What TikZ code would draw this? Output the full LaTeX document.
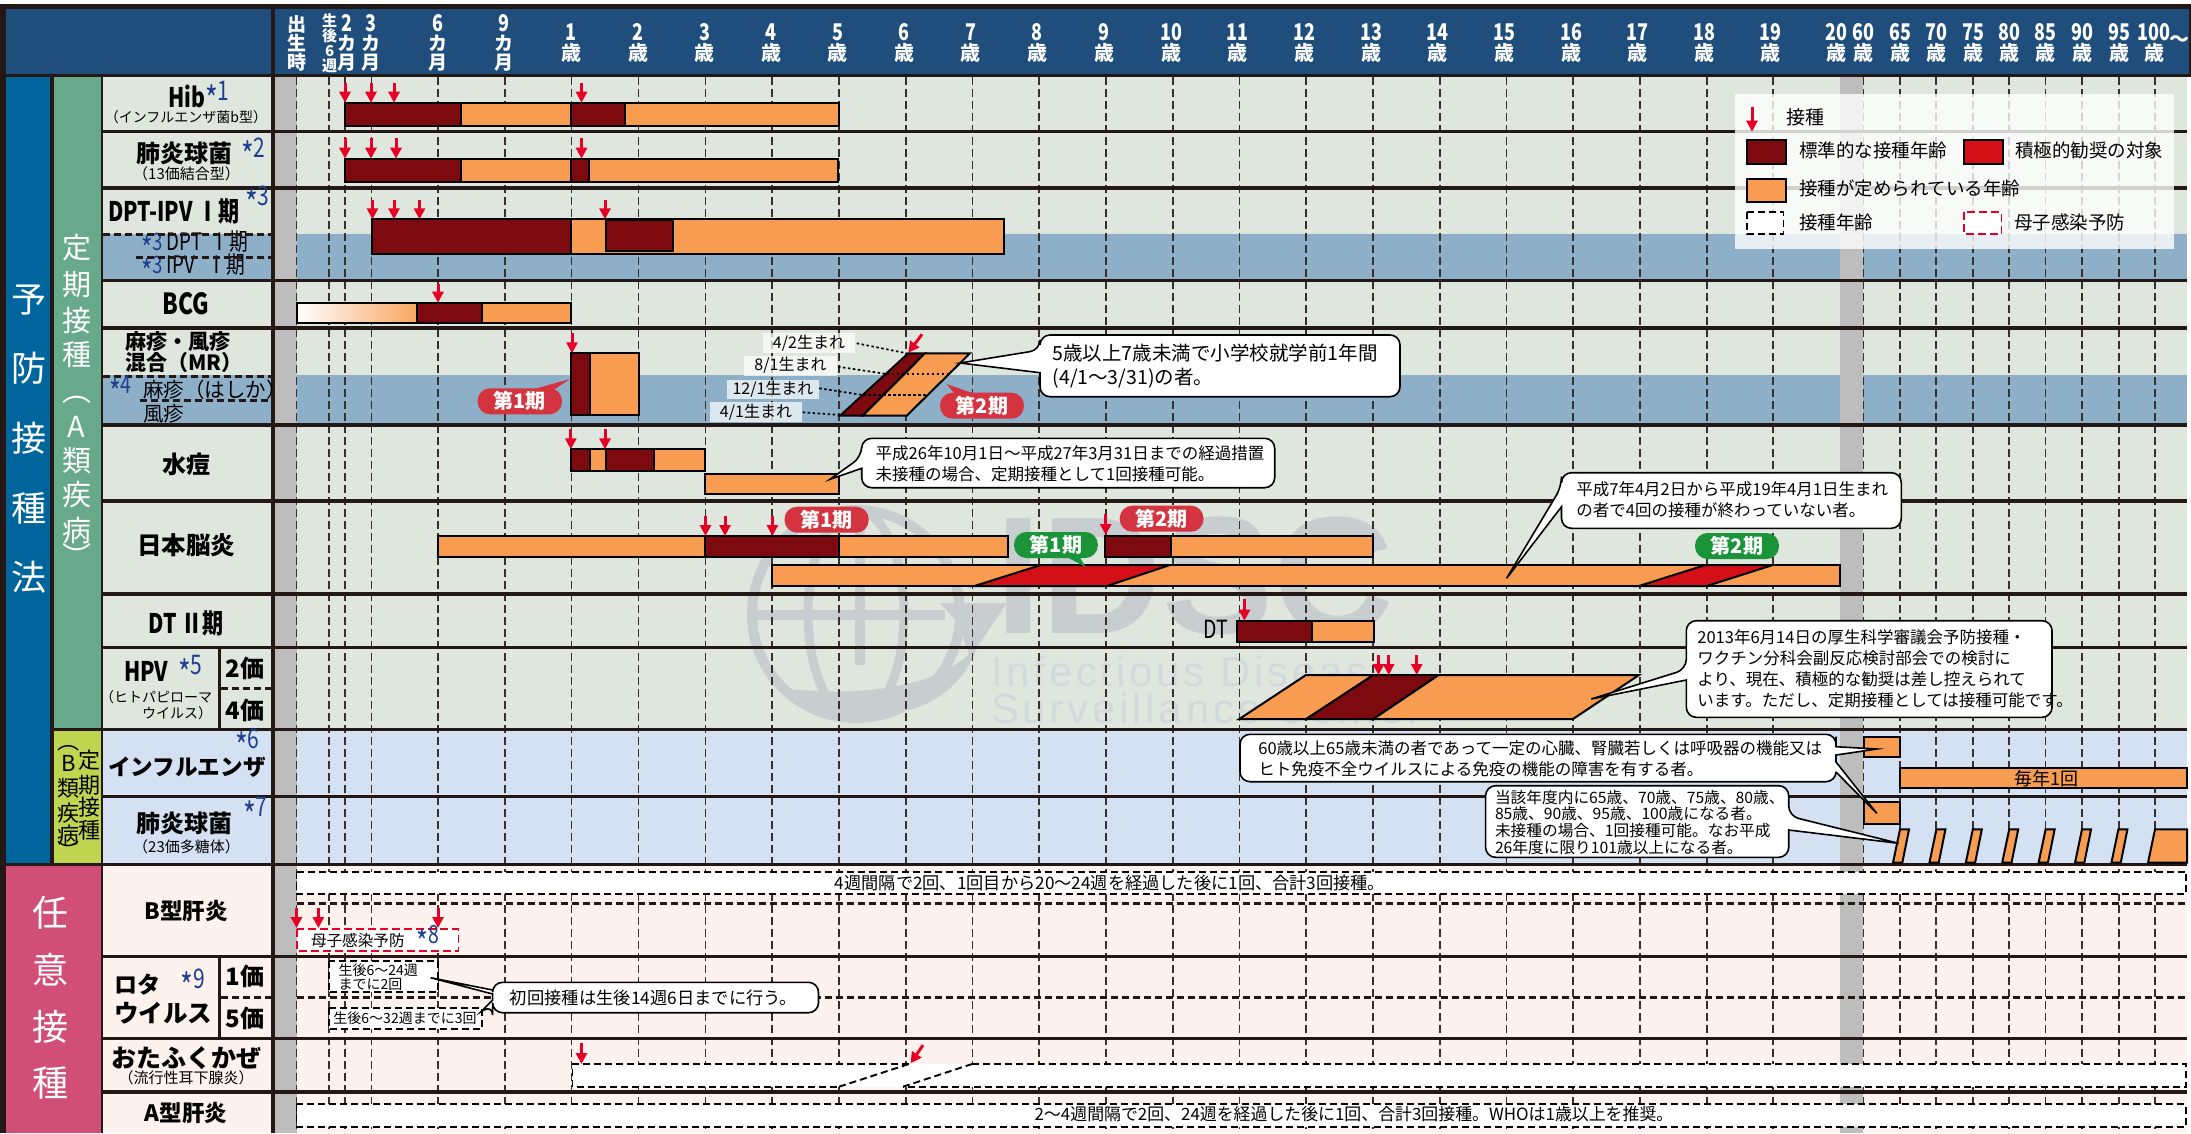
\documentclass[tikz,border=0pt]{standalone}
\usepackage{fontspec}
\setmainfont{Noto Sans CJK JP}
\newfontfamily\cond[FakeStretch=0.78]{Noto Sans CJK JP}
\newfontfamily\wmfont{Liberation Sans}
\newfontfamily\wmthin[LetterSpace=9]{Liberation Sans}
\usetikzlibrary{arrows.meta}
\definecolor{ink}{HTML}{231815}
\definecolor{hdrblue}{HTML}{1F4E7D}
\definecolor{sideblue}{HTML}{00659C}
\definecolor{sidegreen}{HTML}{68A98C}
\definecolor{sideyel}{HTML}{BFD550}
\definecolor{sidepink}{HTML}{D14E77}
\definecolor{rowgreen}{HTML}{DFE6DD}
\definecolor{rowband}{HTML}{8DB0C8}
\definecolor{rowblue}{HTML}{D3E1F3}
\definecolor{rowpink}{HTML}{FEF2EE}
\definecolor{colgray}{HTML}{BDBDBD}
\definecolor{dkred}{HTML}{7D0A0F}
\definecolor{orng}{HTML}{F89C51}
\definecolor{brred}{HTML}{D50F18}
\definecolor{arrred}{HTML}{E60026}
\definecolor{navyb}{HTML}{1E3F8F}
\definecolor{pillred}{HTML}{D4343F}
\definecolor{pillgreen}{HTML}{1B9439}
\definecolor{wmk}{HTML}{C8CDD0}
\definecolor{wml}{HTML}{D2D8DC}
\newcounter{nid}
\newcommand{\fsz}[2]{\fontsize{#1}{#2}\selectfont}
\newcommand{\stx}[1]{\raisebox{-.42em}{\scalebox{1.3}{*}}#1}
\newcommand{\TT}[4][]{\stepcounter{nid}\node[txt,#1] (t\arabic{nid}) at (#2,#3) {#4};}
\newcommand{\barr}[5]{\draw[barline,fill=#5] (#1,#2) rectangle (#3,#4);}
\newcommand{\vcar}[3]{\draw[vacc] (#1,#2) -- (#1,#3);}
\newcommand{\callt}[8]{\draw[callout] (#1,#8) [rounded corners=10pt] -- (#1,#4) -- (#3,#4) -- (#3,#2) -- (#1,#2) -- (#1,#5) [sharp corners] -- (#6,#7) -- cycle;}
\newcommand{\pill}[6]{\fill[#5,rounded corners=12.5pt] (#1,#2) rectangle (#3,#4); \TT[font=\bfseries\fsz{20}{23},text=white]{\fpeval{(#1+#3)/2}}{\fpeval{(#2+#4)/2}}{#6}}
\newcommand{\dg}[1]{{\cond\fsz{23}{20}#1}}
\tikzset{
 txt/.style={inner sep=0pt,outer sep=0pt,text=black,align=center},
 barline/.style={draw=black,line width=2pt,line join=miter},
 vacc/.style={draw=arrred,line width=3pt,-{Triangle[width=11pt,length=11pt]}},
 griddash/.style={draw=ink!90,line width=1.1pt,dash pattern=on 8pt off 4pt},
 heavydash/.style={draw=ink,line width=3pt,dash pattern=on 7pt off 4pt},
 boxdash/.style={draw=black,line width=1.7pt,dash pattern=on 7pt off 4pt},
 reddash/.style={draw=arrred,line width=1.7pt,dash pattern=on 8pt off 4pt},
 callout/.style={draw=black,fill=white,line width=1.6pt,line join=miter},
 sepline/.style={draw=ink,line width=3.4pt},
 dotline/.style={draw=black,line width=1.7pt,dash pattern=on 2.5pt off 2.5pt},
 hd/.style={text=white,font=\bfseries\fsz{20}{20}},
 hdv/.style={text=white,font=\bfseries\fsz{19}{19}},
 sidetxt/.style={text=white,font=\fsz{35}{35}},
 lab/.style={font=\bfseries\fsz{24}{28}},
 lat/.style={font=\cond\bfseries\fsz{27}{30}},
 note/.style={font=\fsz{16.5}{21},align=left,anchor=west},
 stari/.style={text=navyb,font=\cond\fsz{27}{30}},
}
\begin{document}
\begin{tikzpicture}[x=1pt,y=-1pt]
\useasboundingbox (0,0) rectangle (2191,1133);
\fill[white] (0,0) rectangle (2191,1133);
% frame and header
\fill[ink] (0,4) rectangle (275,1133);
\fill[ink] (275,4) rectangle (2191,77);
\fill[hdrblue] (5.6,9) rectangle (271,74);
\fill[hdrblue] (275,9) rectangle (2189,74);
% rows
\fill[rowgreen] (103.4,77) rectangle (2187,728);
\fill[rowband] (103.4,234) rectangle (2187,280);
\fill[rowband] (103.4,375) rectangle (2187,424);
\fill[rowblue] (103.4,729) rectangle (2187,864);
\fill[rowpink] (103.4,864) rectangle (2187,1133);
% watermark
\begin{scope}
\draw[wmk,line width=10pt] (856,614) circle (104);
\draw[wmk,line width=9pt] (856,614) ellipse (48 and 104);
\draw[wmk,line width=10pt] (860,510) -- (860,665);
\draw[wmk,line width=10pt] (753,615) -- (945,615);
\fill[wmk] (780,688) .. controls (830,722) and (945,738) .. (978,645) .. controls (950,680) and (880,700) .. (780,688) -- cycle;
\fill[wmk] (940,603) -- (1007,603) -- (970,657) -- (958,623) -- cycle;
\TT[anchor=base west,font=\wmfont\bfseries\fsz{167}{167},text=wmk]{995}{633}{IDSC}
\TT[anchor=west,font=\wmthin\fsz{42}{42},text=wml]{991}{671}{Infectious Disease}
\TT[anchor=west,font=\wmthin\fsz{42}{42},text=wml]{991}{708}{Surveillance Center}
\end{scope}
% gray columns
\fill[colgray] (275,77) rectangle (296.5,1133);
\fill[colgray] (1840,77) rectangle (1862.7,1133);
% grid
\foreach \gx in {296.5,329,345,371.5,438,505,571.7,638.5,705.3,772,839,906,972.5,1039,1106,1173,1239.5,1306,1373,1440,1506.6,1573,1640,1707,1773,1863.6,1900,1936,1973,2009,2045.7,2082,2119,2155}
 \draw[griddash] (\gx,77) -- (\gx,1133);
% separators
\foreach \gy in {131.7,187.8,280.5,327.8,425,501,594,647.3,729.3,796.7,864.3,956.7,1038.3,1091.8}
 \draw[sepline] (103.4,\gy) -- (2187,\gy);
\fill[ink] (271,77) rectangle (275,1133);
% side columns
\fill[sideblue] (5.6,77) rectangle (50,863);
\fill[sidegreen] (54,77) rectangle (100.5,728);
\fill[sideyel] (54,731) rectangle (100.5,863);
\fill[sidepink] (5.6,866) rectangle (100.5,1133);
\foreach \cc/\gy in {予/300,防/368,接/438,種/508,法/577} {\TT[sidetxt]{29.3}{\gy}{\cc}}
\foreach \cc/\gy in {定/248,期/285,接/320,種/355,︵/400,A/427,類/461,疾/495,病/530,︶/555} {\TT[sidetxt,font=\fsz{29}{29}]{76.8}{\gy}{\cc}}
\foreach \cc/\gy in {定/760,期/785,接/807,種/830} {\TT[font=\fsz{22}{22}]{89.9}{\gy}{\cc}}
\foreach \cc/\gy in {︵/748,B/763,類/788,疾/813,病/835,︶/850} {\TT[font=\fsz{22}{22}]{68.4}{\gy}{\cc}}
\foreach \cc/\gy in {任/913,意/970,接/1027,種/1083} {\TT[sidetxt,font=\fsz{36}{36}]{50.3}{\gy}{\cc}}
% header labels
\TT[hdv]{296.5}{43}{出\\生\\時}
\TT[hdv,font=\bfseries\fsz{15}{15}]{329.6}{43}{生\\後\\6\\週}
\TT[hdv]{346.8}{43}{\dg{2}\\カ\\月}
\TT[hdv]{371}{43}{\dg{3}\\カ\\月}
\TT[hdv]{437.6}{43}{\dg{6}\\カ\\月}
\TT[hdv]{504}{43}{\dg{9}\\カ\\月}
\foreach \nn/\gx in {1/571,2/638,3/704.5,4/771,5/837.5,6/904,7/970.5,8/1037,9/1104,10/1171,11/1237,12/1304,13/1371,14/1437.5,15/1504,16/1571,17/1637.5,18/1704,19/1770.5,20/1836,60/1863.6,65/1900,70/1936,75/1973,80/2009,85/2045.7,90/2082,95/2119,100/2154}
 {\TT[hd]{\gx}{43}{\dg{\nn}\\歳}}
\TT[text=white,font=\bfseries\fsz{20}{22}]{2179}{40.7}{～}
% row labels
\TT[anchor=west,lat]{168}{96.7}{Hib}
\TT[anchor=west,stari]{205}{96.7}{\stx{1}}
\TT[font=\fsz{14}{16}]{186}{116.7}{（インフルエンザ菌b型）}
\TT[anchor=west,lab]{136}{153}{肺炎球菌}
\TT[anchor=west,stari]{241}{153}{\stx{2}}
\TT[font=\fsz{15}{17}]{186.5}{174}{（13価結合型）}
\TT[anchor=west,lat]{108}{211.7}{DPT-IPV Ⅰ期}
\TT[anchor=west,stari]{245}{201}{\stx{3}}
\TT[anchor=west,font=\cond\fsz{24}{27}]{141}{246}{\textcolor{navyb}{\stx{3}} DPT\ \ Ⅰ期}
\TT[anchor=west,font=\cond\fsz{24}{27}]{141}{268.7}{\textcolor{navyb}{\stx{3}} IPV\ \ \ Ⅰ期}
\draw[heavydash] (103.4,234.3) -- (271,234.3);
\draw[heavydash] (136,257.3) -- (271,257.3);
\TT[lat,font=\cond\bfseries\fsz{29}{30}]{186}{303.3}{BCG}
\TT[anchor=west,font=\bfseries\fsz{21}{24}]{125}{341.7}{麻疹・風疹}
\TT[anchor=west,font=\bfseries\fsz{21}{24}]{125}{362.7}{混合（MR）}
\draw[heavydash] (103.4,376.7) -- (271,376.7);
\TT[anchor=west,stari,font=\cond\fsz{25}{28}]{109}{390}{\stx{4}}
\TT[anchor=west,font=\fsz{20.5}{23}]{143}{390}{麻疹（はしか）}
\draw[heavydash] (139.7,400.7) -- (271,400.7);
\TT[anchor=west,font=\fsz{20.5}{23}]{143}{413.3}{風疹}
\TT[lab]{186}{464}{水痘}
\TT[lab,font=\bfseries\fsz{24.5}{28}]{186}{545.7}{日本脳炎}
\TT[lat]{186}{623.3}{DT Ⅱ期}
\TT[anchor=west,lat]{124}{671}{HPV}
\TT[anchor=west,stari]{178}{671}{\stx{5}}
\TT[anchor=east,font=\fsz{14}{16}]{212}{696.7}{（ヒトパピローマ}
\TT[anchor=east,font=\fsz{14}{16}]{212}{712.7}{ウイルス）}
\fill[ink] (218,649) rectangle (221,728);
\draw[heavydash] (221,688.3) -- (271,688.3);
\TT[lab]{245.3}{668.3}{2価}
\TT[lab]{245.3}{710}{4価}
\TT[anchor=west,stari]{235}{744}{\stx{6}}
\TT[font=\bfseries\fsz{22.6}{26}]{187}{766.7}{インフルエンザ}
\TT[anchor=west,lab]{136}{823.3}{肺炎球菌}
\TT[anchor=west,stari]{243}{813}{\stx{7}}
\TT[font=\fsz{15}{17}]{186.5}{846.7}{（23価多糖体）}
\TT[font=\bfseries\fsz{22.5}{26}]{186}{911}{B型肝炎}
\TT[anchor=west,font=\bfseries\fsz{23}{26}]{114}{985}{ロタ}
\TT[anchor=west,stari]{180.6}{984}{\stx{9}}
\TT[anchor=west,font=\bfseries\fsz{24.5}{28}]{114}{1013}{ウイルス}
\fill[ink] (218,958) rectangle (221,1037);
\draw[heavydash] (221,997.7) -- (271,997.7);
\TT[lab]{245.3}{976.7}{1価}
\TT[lab]{245.3}{1018}{5価}
\TT[font=\bfseries\fsz{25}{28}]{186}{1058.3}{おたふくかぜ}
\TT[font=\fsz{15}{17}]{186}{1078}{（流行性耳下腺炎）}
\TT[font=\bfseries\fsz{22.5}{26}]{186}{1113.3}{A型肝炎}
% row-internal dashed lines
\draw[heavydash] (296.5,903.3) -- (2187,903.3);
\draw[heavydash] (296.5,997.3) -- (2187,997.3);
% Hib
\barr{345}{102.7}{461}{126}{dkred}\barr{461}{102.7}{571}{126}{orng}\barr{571}{102.7}{625}{126}{dkred}\barr{625}{102.7}{839}{126}{orng}
\foreach \gx in {345,371,394,581.5} {\vcar{\gx}{83.3}{102.7}}
% pneumococcal 13
\barr{345}{158.7}{461}{182}{dkred}\barr{461}{158.7}{571}{182}{orng}\barr{571}{158.7}{589}{182}{dkred}\barr{589}{158.7}{838}{182}{orng}
\foreach \gx in {345,371,396,581.5} {\vcar{\gx}{137.7}{158.7}}
% DPT-IPV
\barr{372}{219.3}{571}{254}{dkred}\barr{571}{219.3}{1004}{254}{orng}\barr{606}{220}{673}{251.3}{dkred}
\foreach \gx in {372.5,394,419.5,605} {\vcar{\gx}{200}{219.3}}
% BCG
\shade[left color=white,right color=orng!90!white] (297,302.7) rectangle (417,322.7);
\draw[barline] (297,302.7) rectangle (417,322.7);
\barr{417}{302.7}{482}{322.7}{dkred}\barr{482}{302.7}{571}{322.7}{orng}
\vcar{438}{284}{302.7}
% MR
\barr{571}{353.3}{590}{415.3}{dkred}\barr{590}{353.3}{639}{415.3}{orng}
\vcar{572}{333.3}{353.3}
\fill[pillred] (530.7,390) -- (570,379) -- (549,393) -- cycle;
\pill{477.6}{388.3}{562}{414.3}{pillred}{第1期}
\draw[barline,fill=dkred] (908.3,353.3) -- (925,353.3) -- (862.7,415.7) -- (840,415.7) -- cycle;
\draw[barline,fill=orng] (925,353.3) -- (970,353.3) -- (906.7,415.7) -- (862.7,415.7) -- cycle;
\draw[dotline] (886.7,374) -- (948,374);
\draw[dotline] (863,395) -- (928,395);
\fill[white,opacity=.7] (763,333) rectangle (855,352.7);
\fill[white,opacity=.7] (744,355.7) rectangle (837,375.7);
\fill[white,opacity=.7] (727,380) rectangle (819,399);
\fill[white,opacity=.7] (710,402) rectangle (802,421.7);
\TT[font=\fsz{16}{18}]{809}{343}{4/2生まれ}
\TT[font=\fsz{16}{18}]{790.5}{365.7}{8/1生まれ}
\TT[font=\fsz{16}{18}]{773}{389.5}{12/1生まれ}
\TT[font=\fsz{16}{18}]{756}{411.8}{4/1生まれ}
\draw[dotline] (856.7,343.3) -- (906.7,353.3);
\draw[dotline] (838,366.7) -- (886.7,374);
\draw[dotline] (819.3,388.3) -- (863,395);
\draw[dotline] (802.7,412.3) -- (840,415);
\draw[vacc] (922,334.3) -- (908.3,352.7);
\fill[pillred] (946.5,384) -- (955,394) -- (975,394) -- cycle;
\pill{940}{392.7}{1024}{418.7}{pillred}{第2期}
\callt{1040}{335}{1400}{396.7}{350}{960}{363}{372.7}
\TT[note,font=\fsz{19.5}{24}]{1052.6}{366}{5歳以上7歳未満で小学校就学前1年間\\(4/1～3/31)の者。}
% varicella
\barr{571}{449.3}{590}{470.7}{dkred}\barr{590}{449.3}{606}{470.7}{orng}\barr{606}{449.3}{653.5}{470.7}{dkred}\barr{653.5}{449.3}{705}{470.7}{orng}
\barr{705}{474}{839}{494.3}{orng}
\foreach \gx in {570.8,605} {\vcar{\gx}{429.3}{449.3}}
\callt{861.7}{438.3}{1274.7}{487.7}{456.7}{830}{479.3}{468.3}
\TT[note]{875.7}{463.8}{平成26年10月1日～平成27年3月31日までの経過措置\\未接種の場合、定期接種として1回接種可能。}
% JE
\barr{438}{536}{705}{557.3}{orng}\barr{705}{536}{838.5}{557.3}{dkred}\barr{838.5}{536}{1007.5}{557.3}{orng}
\barr{1104.8}{536}{1171.3}{557.3}{dkred}\barr{1171.3}{536}{1373}{557.3}{orng}
\foreach \gx in {705.5,725,772.4} {\vcar{\gx}{515.7}{536}}
\vcar{1105.7}{514}{535}
\pill{784.5}{506.7}{868.7}{532.7}{pillred}{第1期}
\pill{1119.7}{505.7}{1203.5}{531.7}{pillred}{第2期}
\barr{772.4}{565}{1840}{586}{orng}
\draw[barline,fill=brred] (1041,565) -- (1170,565) -- (1107,586) -- (974.4,586) -- cycle;
\draw[barline,fill=brred] (1705.3,565) -- (1772.8,565) -- (1706.7,586) -- (1639,586) -- cycle;
\fill[pillgreen] (1065,556) -- (1086,567.3) -- (1079,556) -- cycle;
\pill{1014}{532}{1097.8}{558}{pillgreen}{第1期}
\pill{1695}{533}{1779}{559}{pillgreen}{第2期}
\callt{1561.5}{472.7}{1901.3}{528.3}{486.7}{1506.6}{578.3}{506.7}
\TT[note]{1576.4}{500}{平成7年4月2日から平成19年4月1日生まれ\\の者で4回の接種が終わっていない者。}
% DT
\barr{1237.4}{620.7}{1312}{641.7}{dkred}\barr{1312}{620.7}{1374.3}{641.7}{orng}
\vcar{1244.4}{599.3}{620.7}
\TT[anchor=east,font=\cond\fsz{25}{28}]{1228}{629}{DT}
% HPV
\draw[barline,fill=orng] (1306,675) -- (1373.4,675) -- (1306.3,719) -- (1239.3,719) -- cycle;
\draw[barline,fill=dkred] (1373.4,675) -- (1438.6,675) -- (1373.4,719) -- (1306.3,719) -- cycle;
\draw[barline,fill=orng] (1438.6,675) -- (1639,675) -- (1573,719) -- (1373.4,719) -- cycle;
\foreach \gx in {1378.5,1388.7,1416.7} {\vcar{\gx}{655}{675}}
\callt{1686.3}{620.7}{2052}{717.3}{669.3}{1591.3}{699}{680}
\TT[note]{1697.4}{668.7}{2013年6月14日の厚生科学審議会予防接種・\\ワクチン分科会副反応検討部会での検討に\\より、現在、積極的な勧奨は差し控えられて\\います。ただし、定期接種としては接種可能です。}
% influenza and pneumococcal 23
\barr{1864}{736.7}{1900}{757.3}{orng}
\barr{1900}{768}{2187}{788.3}{orng}
\TT[font=\fsz{18}{20}]{2046.6}{778.3}{毎年1回}
\barr{1864}{802}{1900}{824.3}{orng}
\foreach \ii in {0,...,6}
 {\draw[barline,fill=orng] ({1900+36.4*\ii},829.3) -- ({1909+36.4*\ii},829.3) -- ({1902.3+36.4*\ii},862.7) -- ({1893+36.4*\ii},862.7) -- cycle;}
\draw[barline,fill=orng] (2155,829.3) -- (2187,829.3) -- (2187,862.7) -- (2148,862.7) -- cycle;
\draw[callout] (1836,746.7) -- (1876.7,749) -- (1836,755) -- (1836,762) -- (1876.7,813.3) -- (1836,772) [rounded corners=10pt] -- (1836,781.7) -- (1240,781.7) -- (1240,734.3) -- (1836,734.3) -- (1836,746.7) [sharp corners] -- cycle;
\TT[note]{1258.4}{758.8}{60歳以上65歳未満の者であって一定の心臓、腎臓若しくは呼吸器の機能又は\\ヒト免疫不全ウイルスによる免疫の機能の障害を有する者。}
\callt{1788.7}{785.7}{1485.6}{857.3}{816}{1898.6}{843.3}{830}
\TT[note,font=\fsz{15.7}{16.7}]{1495}{822.3}{当該年度内に65歳、70歳、75歳、80歳、\\85歳、90歳、95歳、100歳になる者。\\未接種の場合、1回接種可能。なお平成\\26年度に限り101歳以上になる者。}
% Hep B
\draw[boxdash,fill=white] (296.5,871.7) rectangle (2186,894.3);
\TT[font=\fsz{17.2}{20}]{1110}{883.3}{4週間隔で2回、1回目から20～24週を経過した後に1回、合計3回接種。}
\foreach \gx in {296.5,318.4,438} {\vcar{\gx}{908}{928}}
\draw[reddash,fill=white] (297,929) rectangle (458.6,951);
\TT[anchor=west,font=\fsz{15.6}{18}]{311}{940.7}{母子感染予防}
\TT[anchor=west,stari,font=\cond\fsz{25}{28}]{416.7}{940}{\stx{8}}
% Rotavirus
\draw[boxdash,fill=white] (329,960.7) rectangle (438,992.3);
\TT[anchor=west,align=left,font=\fsz{14}{14.5}]{338.5}{977}{生後6～24週\\までに2回}
\draw[boxdash,fill=white] (329,1007.7) rectangle (482,1028.7);
\TT[font=\fsz{14}{16}]{405}{1017.7}{生後6～32週までに3回}
\draw[callout] (492.6,994) -- (430.6,977.7) -- (492.6,990) -- (492.6,989) [rounded corners=10pt] -- (492.6,982.3) -- (818.5,982.3) -- (818.5,1012.7) -- (492.6,1012.7) -- (492.6,1005) [sharp corners] -- (481,1011.7) -- (492.6,1000) -- cycle;
\TT[font=\fsz{17.3}{20}]{653.6}{997.7}{初回接種は生後14週6日までに行う。}
% Mumps
\fill[white] (572.6,1064) rectangle (2186,1086.7);
\draw[boxdash] (909,1064) -- (572.6,1064) -- (572.6,1086.7) -- (839,1086.7);
\draw[boxdash] (972,1064) -- (2186,1064) -- (2186,1086.7) -- (903,1086.7);
\draw[boxdash,line width=1.9pt] (839,1086.7) -- (909,1064);
\draw[boxdash,line width=1.9pt] (903,1086.7) -- (972,1064);
\vcar{581.5}{1042.7}{1064}
\draw[vacc] (923,1045) -- (910.6,1063.3);
% Hep A
\draw[boxdash,fill=white] (296.5,1104.3) rectangle (2186,1126.7);
\TT[font=\fsz{16.9}{20}]{1354}{1114}{2～4週間隔で2回、24週を経過した後に1回、合計3回接種。WHOは1歳以上を推奨。}
% legend
\fill[white,opacity=.8] (1734.7,94) rectangle (2173.7,249);
\vcar{1752}{106.7}{131.7}
\TT[anchor=west,font=\fsz{19}{22}]{1786}{117.3}{接種}
\barr{1747}{140}{1786}{164}{dkred}
\TT[anchor=west,font=\fsz{18.5}{21}]{1799}{150.7}{標準的な接種年齢}
\barr{1964}{140}{2003.3}{164}{brred}
\TT[anchor=west,font=\fsz{18.5}{21}]{2015.4}{150.7}{積極的勧奨の対象}
\barr{1747}{178.7}{1786}{201.7}{orng}
\TT[anchor=west,font=\fsz{18.5}{21}]{1799}{188.3}{接種が定められている年齢}
\draw[boxdash,fill=white] (1747,212.3) rectangle (1783.5,234.3);
\TT[anchor=west,font=\fsz{18.5}{21}]{1799}{222.3}{接種年齢}
\draw[reddash,fill=white] (1964,212.3) rectangle (2001.4,234.3);
\TT[anchor=west,font=\fsz{18.5}{21}]{2014}{222.3}{母子感染予防}
\end{tikzpicture}
\end{document}
